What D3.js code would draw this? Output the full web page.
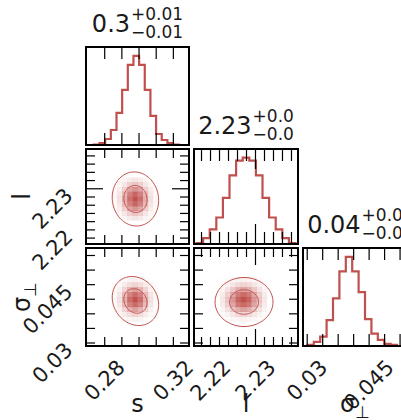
<!DOCTYPE html>
<html><head><meta charset="utf-8">
<script src="https://cdn.jsdelivr.net/npm/d3@7"></script>
<style>body{margin:0;background:#fff}svg{display:block}</style>
</head><body>
<svg id="c" width="401" height="420"></svg>
<script>
// ---------------- data ----------------
const paramNames = ["s", "l", "σ"];
const paramSubs = ["", "", "⊥"];
const titleMain = ["0.3", "2.23", "0.04"];
const titleUp = ["+0.01", "+0.0", "+0.0"];
const titleDown = ["−0.01", "−0.0", "−0.0"];
const domainS = [0.2694, 0.3294];
const domainL = [2.21644, 2.23956];
const domainSig = [0.0291, 0.0543];
const shortS = [0.28, 0.29, 0.30, 0.31, 0.32];
const longS = [];
const shortL = [2.218, 2.22, 2.222, 2.224, 2.226, 2.228, 2.232, 2.234, 2.236, 2.238];
const longL = [2.23];
const shortSig = [0.03, 0.03375, 0.0375, 0.04125, 0.045, 0.04875, 0.0525];
const longSig = [];
const labelS = [0.28, 0.32];
const labelL = [2.22, 2.23];
const labelSig = [0.03, 0.045];
const labelTextS = ["0.28", "0.32"];
const labelTextL = ["2.22", "2.23"];
const labelTextSig = ["0.03", "0.045"];
// 1D histograms: first bin edge, bin width, counts
const histS = {start: 0.27399, width: 0.003294, counts: [0.5, 2, 6, 15, 32, 55, 80, 89, 80, 55, 29, 11, 5, 2, 0.5]};
const histL = {start: 2.21700, width: 0.001467, counts: [1, 6, 15, 27, 47, 70, 85, 88, 85, 70, 47, 27, 15, 6, 1]};
const histSig = {start: 0.030166, width: 0.001551, counts: [1, 4, 9, 25, 46, 72, 86, 72, 52, 26, 12, 6, 2, 1]};
// 2D histograms (20x20 grid over the axis ranges), sub-block: first x bin, top y bin, rows top->bottom
const dens_S_L = {x0: 5, yTop: 13, rows: [
 [7,15,25,34,37,34,25,15,7],
 [11,23,38,52,57,52,38,23,11],
 [16,32,52,71,78,71,52,32,16],
 [19,38,63,85,94,85,63,38,19],
 [20,41,67,91,100,91,67,41,20],
 [19,38,63,85,94,85,63,38,19],
 [16,32,52,71,78,71,52,32,16],
 [11,23,38,52,57,52,38,23,11],
 [7,15,25,34,37,34,25,15,7]]};
const dens_S_Sig = {x0: 5, yTop: 13, rows: [
 [6,11,19,25,28,25,19,11,6],
 [10,20,33,44,49,44,33,20,10],
 [15,29,49,66,73,66,49,29,15],
 [18,37,62,84,92,84,62,37,18],
 [20,41,67,91,100,91,67,41,20],
 [18,37,62,84,92,84,62,37,18],
 [15,29,49,66,73,66,49,29,15],
 [10,20,33,44,49,44,33,20,10],
 [6,11,19,25,28,25,19,11,6]]};
const dens_L_Sig = {x0: 5, yTop: 13, rows: [
 [10,16,22,26,28,26,22,16,10],
 [17,27,38,46,49,46,38,27,17],
 [26,41,56,68,73,68,56,41,26],
 [33,52,71,87,92,87,71,52,33],
 [36,56,77,94,100,94,77,56,36],
 [33,52,71,87,92,87,71,52,33],
 [26,41,56,68,73,68,56,41,26],
 [17,27,38,46,49,46,38,27,17],
 [10,16,22,26,28,26,22,16,10]]};
// contour ellipses: centre, 1-sigma widths, correlation; levels in sigma
const contS_L = {cx: 0.2982, cy: 2.2274, sx: 0.00676, sy: 0.00329, rho: -0.05};
const contS_Sig = {cx: 0.2982, cy: 0.04067, sx: 0.00676, sy: 0.00315, rho: -0.15};
const contL_Sig = {cx: 2.22756, cy: 0.04041, sx: 0.00322, sy: 0.00315, rho: 0.0};
const contourLevels = [1, 2];

// ---------------- layout ----------------
const color = "#c0504d";
const font = "DejaVu Sans";
const textColor = "#1a1a1a";
const colX = [86, 194, 303], colW = [103, 104, 104];
const rowY = [47, 149, 248], rowH = [98, 95, 98];
const domains = [domainS, domainL, domainSig];
const shorts = [shortS, shortL, shortSig];
const longs = [longS, longL, longSig];
const labels = [labelS, labelL, labelSig];
const labelTexts = [labelTextS, labelTextL, labelTextSig];
const hists = [histS, histL, histSig];
const dens = {"1-0": dens_S_L, "2-0": dens_S_Sig, "2-1": dens_L_Sig};
const conts = {"1-0": contS_L, "2-0": contS_Sig, "2-1": contL_Sig};

const svg = d3.select("#c");
const xs = domains.map((d, i) => d3.scaleLinear().domain(d).range([colX[i], colX[i] + colW[i]]));
const ys = domains.map((d, i) => d3.scaleLinear().domain(d).range([rowY[i] + rowH[i], rowY[i]]));

function tickSet(g, axisFn, scale, vals, len, tr) {
  if (!vals.length) return;
  g.append("g").attr("transform", tr)
    .call(axisFn(scale).tickValues(vals).tickSize(-len).tickFormat(""))
    .call(a => a.select(".domain").remove());
}
function drawXTicks(g, c, r, sLen, lLen) {
  const top = rowY[r], bot = rowY[r] + rowH[r];
  [[shorts[c], sLen], [longs[c], lLen]].forEach(([vals, len]) => {
    tickSet(g, d3.axisBottom, xs[c], vals, len, `translate(0,${bot})`);
    tickSet(g, d3.axisTop, xs[c], vals, len, `translate(0,${top})`);
  });
}
function drawYTicks(g, c, r, sLen, lLen) {
  const left = colX[c], right = colX[c] + colW[c];
  [[shorts[r], sLen], [longs[r], lLen]].forEach(([vals, len]) => {
    tickSet(g, d3.axisLeft, ys[r], vals, len, `translate(${left},0)`);
    tickSet(g, d3.axisRight, ys[r], vals, len, `translate(${right},0)`);
  });
}

const defs = svg.append("defs");
for (let r = 0; r < 3; r++) {
  for (let c = 0; c <= r; c++) {
    const id = `clip${r}${c}`;
    defs.append("clipPath").attr("id", id).append("rect")
      .attr("x", colX[c]).attr("y", rowY[r]).attr("width", colW[c]).attr("height", rowH[r]);
    const g = svg.append("g");
    const pg = g.append("g").attr("clip-path", `url(#${id})`);
    if (c === r) {
      const h = hists[c];
      const hy = d3.scaleLinear().domain([0, 1.1 * d3.max(h.counts)]).range([rowY[r] + rowH[r], rowY[r]]);
      const pts = [[h.start, 0]];
      h.counts.forEach((v, i) => { pts.push([h.start + i * h.width, v]); pts.push([h.start + (i + 1) * h.width, v]); });
      pts.push([h.start + h.counts.length * h.width, 0]);
      pg.append("path").attr("d", d3.line().x(d => xs[c](d[0])).y(d => hy(d[1]))(pts))
        .attr("fill", "none").attr("stroke", color).attr("stroke-width", 2.2).attr("stroke-linejoin", "miter");
      drawXTicks(g, c, r, 12, 20);
    } else {
      const key = `${r}-${c}`;
      const dm = dens[key];
      const dx = (domains[c][1] - domains[c][0]) / 20, dy = (domains[r][1] - domains[r][0]) / 20;
      const mx = d3.max(dm.rows.flat());
      dm.rows.forEach((row, j) => row.forEach((v, i) => {
        const xa = domains[c][0] + (dm.x0 + i) * dx;
        const yb = domains[r][0] + (dm.yTop - j) * dy;
        const x0 = xs[c](xa), x1 = xs[c](xa + dx);
        const y0 = ys[r](yb + dy), y1 = ys[r](yb);
        const t = v / mx;
        pg.append("rect").attr("x", x0).attr("y", y0).attr("width", x1 - x0 + 0.3).attr("height", y1 - y0 + 0.3)
          .attr("fill", color).attr("fill-opacity", t * t);
      }));
      const ct = conts[key];
      contourLevels.forEach(k => {
        const pts = d3.range(0, 360, 4).map(a => {
          const th = a * Math.PI / 180;
          return [ct.cx + k * ct.sx * Math.cos(th),
                  ct.cy + k * ct.sy * (ct.rho * Math.cos(th) + Math.sqrt(1 - ct.rho * ct.rho) * Math.sin(th))];
        });
        pg.append("path").attr("d", d3.line().x(d => xs[c](d[0])).y(d => ys[r](d[1])).curve(d3.curveCardinalClosed)(pts))
          .attr("fill", "none").attr("stroke", color).attr("stroke-width", 1);
      });
      drawXTicks(g, c, r, 9, 17);
      drawYTicks(g, c, r, 9, 17);
    }
    g.selectAll(".tick line").attr("stroke", "#000").attr("stroke-width", 1.2);
    g.append("rect").attr("x", colX[c]).attr("y", rowY[r]).attr("width", colW[c]).attr("height", rowH[r])
      .attr("fill", "none").attr("stroke", "#000").attr("stroke-width", 2);
  }
}

// tick labels (rotated 45 degrees)
const tickFont = 21;
const capH = 0.73 * tickFont;
[0, 1, 2].forEach(c => {
  const yTop = rowY[2] + rowH[2] + 12;
  labels[c].forEach((v, k) => {
    const t = svg.append("text").attr("font-family", font).attr("font-size", tickFont).attr("fill", textColor)
      .attr("text-anchor", "end").text(labelTexts[c][k]);
    const L = t.node().getComputedTextLength();
    const ex = xs[c](v) + 0.3536 * (L + capH);
    const ey = yTop + 0.7071 * capH;
    t.attr("transform", `translate(${ex},${ey}) rotate(-45)`);
  });
});
[1, 2].forEach(r => {
  labels[r].forEach((v, k) => {
    const t = svg.append("text").attr("font-family", font).attr("font-size", tickFont).attr("fill", textColor)
      .attr("text-anchor", "end").text(labelTexts[r][k]);
    const ex = colX[0] - 12;
    const ey = ys[r](v) - 2 + 0.7071 * capH;
    t.attr("transform", `translate(${ex},${ey}) rotate(-45)`);
  });
});

// axis labels
const labFont = 24;
[0, 1, 2].forEach(c => {
  const t = svg.append("text").attr("font-family", font).attr("font-size", labFont).attr("fill", textColor)
    .attr("text-anchor", "middle").attr("x", colX[c] + colW[c] / 2).attr("y", 412);
  t.append("tspan").text(paramNames[c]);
  if (paramSubs[c]) t.append("tspan").attr("font-size", labFont * 0.7).attr("dy", 6).text(paramSubs[c]);
});
[1, 2].forEach(r => {
  const cy = rowY[r] + rowH[r] / 2;
  const t = svg.append("text").attr("font-family", font).attr("font-size", labFont).attr("fill", textColor)
    .attr("text-anchor", "middle").attr("transform", `translate(30,${cy}) rotate(-90)`);
  t.append("tspan").text(paramNames[r]);
  if (paramSubs[r]) t.append("tspan").attr("font-size", labFont * 0.7).attr("dy", 6).text(paramSubs[r]);
});

// titles
const titleFont = 24, smallFont = 17;
[0, 1, 2].forEach(c => {
  const g = svg.append("g").attr("fill", textColor);
  const m = g.append("text").attr("font-family", font).attr("font-size", titleFont).attr("x", 0).attr("y", 0).text(titleMain[c]);
  const w = m.node().getComputedTextLength();
  const up = g.append("text").attr("font-family", font).attr("font-size", smallFont).attr("x", w + 1).attr("y", -12).text(titleUp[c]);
  const dn = g.append("text").attr("font-family", font).attr("font-size", smallFont).attr("x", w + 1).attr("y", 6).text(titleDown[c]);
  const tw = w + 1 + Math.max(up.node().getComputedTextLength(), dn.node().getComputedTextLength());
  g.attr("transform", `translate(${colX[c] + colW[c] / 2 - tw / 2},${rowY[c] - 15})`);
});
</script>
</body></html>
